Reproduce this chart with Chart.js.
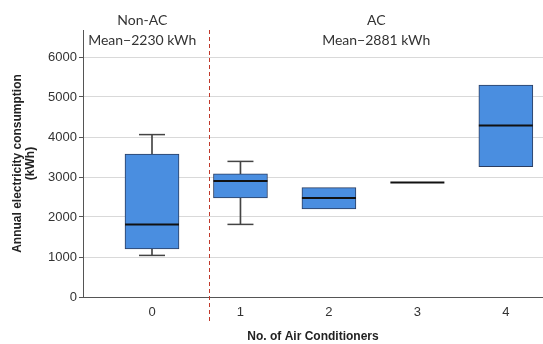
<!DOCTYPE html>
<html>
<head>
<meta charset="utf-8">
<script src="https://cdn.jsdelivr.net/npm/chart.js@4"></script>
<style>
  body { margin: 0; background: #fff; }
  canvas { display: block; }
</style>
</head>
<body>
<canvas id="chart" width="543" height="344"></canvas>
<script>
// data (kWh)
const categories = [0, 1, 2, 3, 4];
const whiskerLow = [1040, 1815, null, null, null];
const q1 = [1200, 2475, 2200, 2865, 3260];
const median = [1815, 2900, 2475, 2865, 4285];
const q3 = [3575, 3080, 2735, 2865, 5300];
const whiskerHigh = [4060, 3390, null, null, null];
const yTicks = [0, 1000, 2000, 3000, 4000, 5000, 6000];
const groupDivider = 0.64;
const groupLabels = [["Non-AC", "Mean\u22122230 kWh"], ["AC", "Mean\u22122881 kWh"]];

const FONT = '"Liberation Sans", Arial, sans-serif';

const boxData = categories.map((c, i) => ({ x: c, y: [q1[i], q3[i]] }));
const whiskerData = categories
    .map((c, i) => ({ x: c, y: [whiskerLow[i], whiskerHigh[i]] }))
    .filter(d => d.y[0] != null);
const capData = [];
categories.forEach((c, i) => {
    if (whiskerLow[i] != null) capData.push({ x: c, y: whiskerLow[i] });
    if (whiskerHigh[i] != null) capData.push({ x: c, y: whiskerHigh[i] });
});
const medianData = categories.map((c, i) => ({ x: c, y: median[i] }));

//---------------------------------------------------------------
// DIVIDER + GROUP LABELS
//---------------------------------------------------------------
const groupPlugin = {
    id: 'groups',
    beforeDatasetsDraw(chart) {
        const ctx = chart.ctx;
        const area = chart.chartArea;
        const xs = chart.scales.x;
        const dx = Math.round(xs.getPixelForValue(groupDivider)) + 0.5;

        ctx.save();
        ctx.strokeStyle = '#c0392b';
        ctx.lineWidth = 1;
        ctx.setLineDash([4, 3]);
        ctx.beginPath();
        ctx.moveTo(dx, area.top);
        ctx.lineTo(dx, area.bottom + 24);
        ctx.stroke();
        ctx.restore();

        ctx.save();
        ctx.fillStyle = '#333';
        ctx.font = '14px Lato, "Open Sans", sans-serif';
        ctx.textAlign = 'center';
        ctx.textBaseline = 'middle';
        const centers = [(area.left + dx) / 2 - 4, (dx + area.right) / 2];
        groupLabels.forEach((lines, g) => {
            lines.forEach((t, k) => ctx.fillText(t, centers[g], 20 + k * 20));
        });
        ctx.restore();
    }
};

var ctx = document.getElementById('chart').getContext('2d');
var chart = new Chart(ctx, {
    type: 'bar',
    data: {
        datasets: [
            {
                // whisker stems, drawn behind the boxes
                type: 'bar',
                data: whiskerData,
                backgroundColor: '#444',
                barThickness: 1,
                grouped: false,
                order: 4
            },
            {
                type: 'bar',
                data: boxData,
                backgroundColor: '#4a8ee0',
                borderColor: '#2b3d60',
                borderWidth: 1,
                borderSkipped: false,
                barThickness: 54,
                grouped: false,
                order: 3
            },
            {
                type: 'scatter',
                data: capData,
                pointStyle: 'line',
                radius: 13,
                borderColor: '#444',
                borderWidth: 1.5,
                order: 2
            },
            {
                type: 'scatter',
                data: medianData,
                pointStyle: 'line',
                radius: 27,
                borderColor: '#111',
                borderWidth: 2,
                order: 1
            }
        ]
    },
    options: {
        responsive: false,
        animation: false,
        layout: { autoPadding: false, padding: { top: 30, right: 0, left: 0, bottom: 0 } },
        plugins: {
            legend: { display: false },
            tooltip: { enabled: false }
        },
        scales: {
            x: {
                type: 'linear',
                offset: false,
                min: -0.78,
                max: 4.42,
                afterBuildTicks: (s) => { s.ticks = categories.map(v => ({ value: v })); },
                afterFit: (s) => { s.height = 47; },
                grid: { display: false },
                border: { color: '#555', width: 1 },
                ticks: {
                    color: '#333',
                    font: { family: FONT, size: 13 },
                    padding: 0
                },
                title: {
                    display: true,
                    text: 'No. of Air Conditioners',
                    color: '#222',
                    font: { family: FONT, size: 12, weight: 'bold' },
                    padding: { top: 8, bottom: 0 }
                }
            },
            y: {
                min: 0,
                max: 6675,
                afterBuildTicks: (s) => { s.ticks = yTicks.map(v => ({ value: v })); },
                afterFit: (s) => { s.width = 83; },
                grid: { color: '#d9d9d9', tickColor: '#555', tickLength: 4 },
                border: { color: '#555', width: 1 },
                ticks: {
                    color: '#333',
                    font: { family: FONT, size: 13 },
                    padding: 2,
                    callback: (v) => String(v)
                },
                title: {
                    display: true,
                    text: ['Annual electricity consumption', '(kWh)'],
                    color: '#222',
                    font: { family: FONT, size: 12, weight: 'bold', lineHeight: 1.1 },
                    padding: { top: 11, bottom: 4 }
                }
            }
        }
    },
    plugins: [groupPlugin]
});
</script>
</body>
</html>
